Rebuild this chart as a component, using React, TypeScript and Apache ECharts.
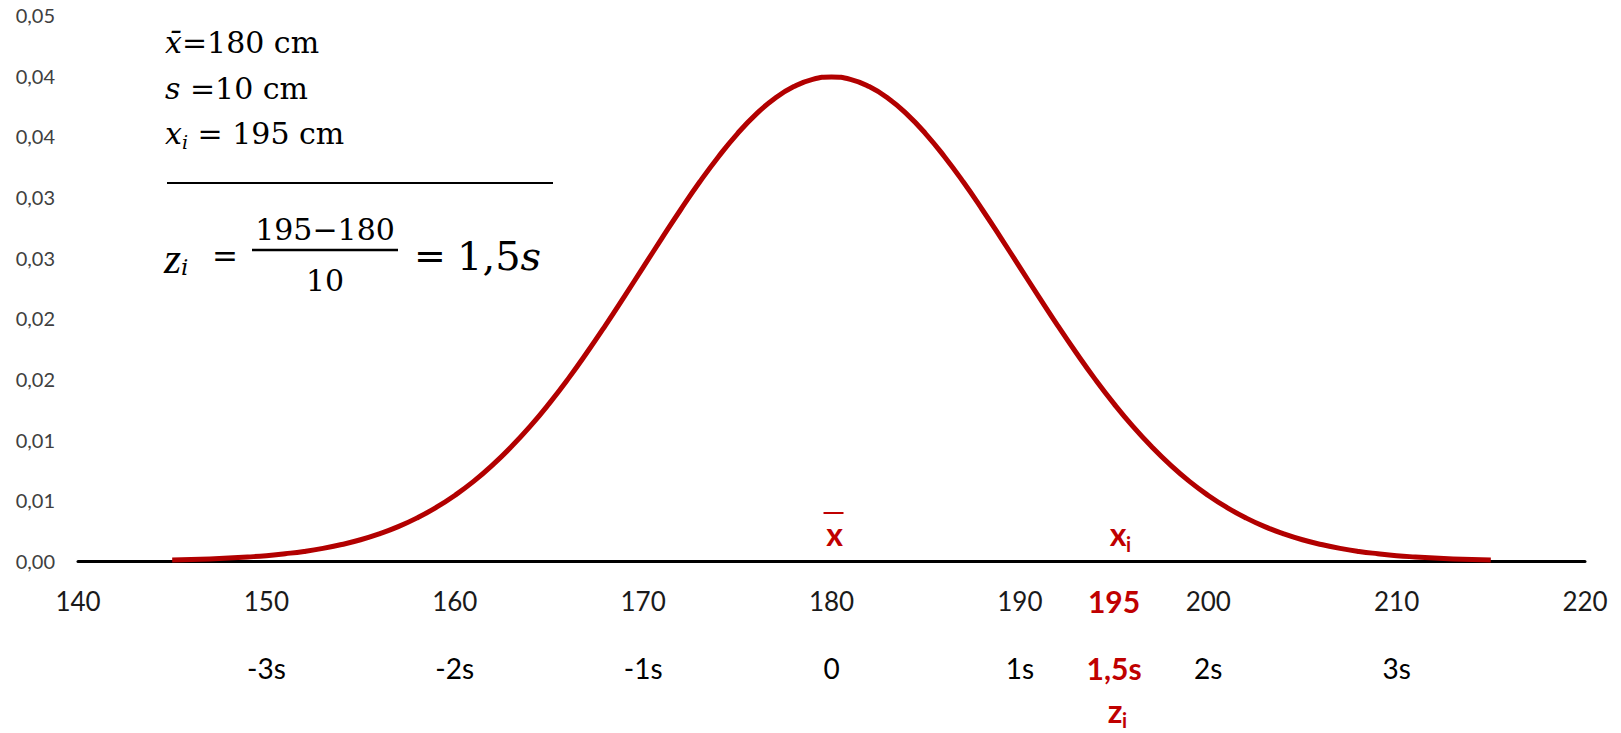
import React, { useEffect, useRef } from 'react';
import * as echarts from 'echarts';

// ---- data ----
const curveX = [
  145, 146, 147, 148, 149, 150, 151, 152, 153, 154, 155, 156, 157, 158, 159, 160, 161, 162,
  163, 164, 165, 166, 167, 168, 169, 170, 171, 172, 173, 174, 175, 176, 177, 178, 179, 180,
  181, 182, 183, 184, 185, 186, 187, 188, 189, 190, 191, 192, 193, 194, 195, 196, 197, 198,
  199, 200, 201, 202, 203, 204, 205, 206, 207, 208, 209, 210, 211, 212, 213, 214, 215,
];
const curveY = [
  0.00009, 0.00012, 0.00017, 0.00024, 0.00033, 0.00044, 0.0006, 0.00079, 0.00104, 0.00136,
  0.00175, 0.00224, 0.00283, 0.00355, 0.0044, 0.0054, 0.00656, 0.0079, 0.00941, 0.01109,
  0.01295, 0.01497, 0.01714, 0.01942, 0.02179, 0.0242, 0.02661, 0.02897, 0.03123, 0.03332,
  0.03521, 0.03683, 0.03814, 0.0391, 0.0397, 0.03989, 0.0397, 0.0391, 0.03814, 0.03683,
  0.03521, 0.03332, 0.03123, 0.02897, 0.02661, 0.0242, 0.02179, 0.01942, 0.01714, 0.01497,
  0.01295, 0.01109, 0.00941, 0.0079, 0.00656, 0.0054, 0.0044, 0.00355, 0.00283, 0.00224,
  0.00175, 0.00136, 0.00104, 0.00079, 0.0006, 0.00044, 0.00033, 0.00024, 0.00017, 0.00012,
  0.00009,
];
const xTickValues = [140, 150, 160, 170, 180, 190, 200, 210, 220];
const xSigmaLabels = ['', '-3s', '-2s', '-1s', '0', '1s', '2s', '3s', ''];
const yTickLabels = ['0,00', '0,01', '0,01', '0,02', '0,02', '0,03', '0,03', '0,04', '0,04', '0,05'];
const meanValue = 180;
const highlightValue = 195;
const highlightLabel = '195';
const highlightSigma = '1,5s';

const RED = '#C00000';
const SERIF = 'DejaVu Serif';
const SANS = 'Lato';

export default function App() {
  const ref = useRef<HTMLDivElement>(null);

  useEffect(() => {
    document.body.style.margin = '0';
    if (!ref.current) return;
    const chart = echarts.init(ref.current, undefined, { renderer: 'svg' });

    const labelValues = [...xTickValues, highlightValue].sort((a, b) => a - b);

    chart.setOption({
      animation: false,
      grid: { left: 78, right: 36, top: 15, bottom: 172, containLabel: false, outerBoundsMode: 'none' },
      xAxis: {
        type: 'value',
        min: 140,
        max: 220,
        interval: 10,
        axisLine: { show: true, onZero: false, lineStyle: { color: '#000', width: 3 } },
        axisTick: { show: false },
        splitLine: { show: false },
        axisLabel: {
          customValues: labelValues,
          margin: 10,
          hideOverlap: false,
          showMinLabel: true,
          showMaxLabel: true,
          formatter: (v: number) => {
            if (Math.abs(v - highlightValue) < 1e-6) {
              return `{r|${highlightLabel}}\n{rs|${highlightSigma}}`;
            }
            const i = xTickValues.findIndex((t) => Math.abs(t - v) < 1e-6);
            const s = i >= 0 ? xSigmaLabels[i] : '';
            return s ? `{n|${Math.round(v)}}\n{s|${s}}` : `{n|${Math.round(v)}}`;
          },
          rich: {
            n: { fontFamily: SANS, fontSize: 26, color: '#1a1a1a', lineHeight: 60 },
            s: { fontFamily: SANS, fontSize: 28, color: '#000', lineHeight: 74 },
            r: { fontFamily: SANS, fontSize: 30, fontWeight: 'bold', color: RED, lineHeight: 60 },
            rs: { fontFamily: SANS, fontSize: 30, fontWeight: 'bold', color: RED, lineHeight: 74 },
          },
        },
      },
      yAxis: {
        type: 'value',
        min: 0,
        max: 0.045,
        interval: 0.005,
        axisLine: { show: false },
        axisTick: { show: false },
        splitLine: { show: false },
        axisLabel: {
          margin: 23,
          fontFamily: SANS,
          fontSize: 20,
          color: '#404040',
          formatter: (v: number) => yTickLabels[Math.round(v / 0.005)] ?? '',
        },
      },
      series: [
        {
          type: 'line',
          data: curveX.map((x, i) => [x, curveY[i]]),
          smooth: true,
          symbol: 'none',
          showSymbol: false,
          lineStyle: { color: '#B20000', width: 5 },
          z: 3,
        },
      ],
    });

    const [mx, axisY] = chart.convertToPixel({ gridIndex: 0 }, [meanValue, 0]) as number[];
    const [hx] = chart.convertToPixel({ gridIndex: 0 }, [highlightValue, 0]) as number[];

    const txt = (x: number, y: number, text: string, s: Record<string, unknown>) => ({
      type: 'text',
      x,
      y,
      style: { text, align: 'left', verticalAlign: 'middle', fill: '#000', ...s },
    });
    const serif = { fontFamily: SERIF, fontSize: 30 };
    const serifIt = { fontFamily: SERIF, fontSize: 30, fontStyle: 'italic' };
    const serifSub = { fontFamily: SERIF, fontSize: 19, fontStyle: 'italic' };
    const redBold = { fontFamily: SANS, fontWeight: 'bold', fontSize: 32, fill: RED };
    const redSub = { fontFamily: SANS, fontWeight: 'bold', fontSize: 20, fill: RED };

    chart.setOption({
      graphic: [
        // description block
        txt(165, 42, '{it|x\u0304}{n|=180 cm}', {
          rich: {
            it: { ...serifIt, fill: '#000' },
            n: { ...serif, fill: '#000' },
          },
        }),
        txt(165, 88, '{it|s}{n| =10 cm}', {
          rich: {
            it: { ...serifIt, fill: '#000' },
            n: { ...serif, fill: '#000' },
          },
        }),
        txt(165, 133, 'x', serifIt),
        txt(182, 142, 'i', serifSub),
        txt(188, 133, ' = 195 cm', serif),
        {
          type: 'line',
          shape: { x1: 167, y1: 183, x2: 553, y2: 183 },
          style: { stroke: '#000', lineWidth: 2 },
        },
        // formula
        txt(164, 258, 'z', { fontFamily: 'Liberation Serif', fontStyle: 'italic', fontSize: 44 }),
        txt(181, 267, 'i', { fontFamily: SERIF, fontStyle: 'italic', fontSize: 23 }),
        txt(225, 256, '=', { fontFamily: SERIF, fontSize: 31, align: 'center' }),
        txt(325, 229, '195\u2212180', { ...serif, align: 'center' }),
        {
          type: 'line',
          shape: { x1: 252, y1: 250, x2: 398, y2: 250 },
          style: { stroke: '#000', lineWidth: 2.5 },
        },
        txt(325, 280, '10', { ...serif, align: 'center' }),
        txt(430, 256, '=', { fontFamily: SERIF, fontSize: 38, align: 'center' }),
        txt(457, 256, '{n|1,5}{it|s}', {
          rich: {
            n: { fontFamily: SERIF, fontSize: 40, fill: '#000' },
            it: { fontFamily: SERIF, fontStyle: 'italic', fontSize: 40, fill: '#000' },
          },
        }),
        // mean annotation (x-bar) above the axis
        {
          type: 'line',
          shape: { x1: mx - 8, y1: axisY - 48, x2: mx + 12, y2: axisY - 48 },
          style: { stroke: RED, lineWidth: 2 },
        },
        txt(mx + 3, axisY - 28, 'x', { ...redBold, align: 'center' }),
        // x_i annotation
        txt(hx + 4, axisY - 28, 'x', { ...redBold, align: 'center' }),
        txt(hx + 12, axisY - 17, 'i', redSub),
        // z_i under the highlighted label
        txt(hx + 1, axisY + 149, 'z', { ...redBold, align: 'center' }),
        txt(hx + 8, axisY + 159, 'i', redSub),
      ],
    });

    return () => {
      chart.dispose();
    };
  }, []);

  return <div ref={ref} style={{ width: 1621, height: 733 }} />;
}
